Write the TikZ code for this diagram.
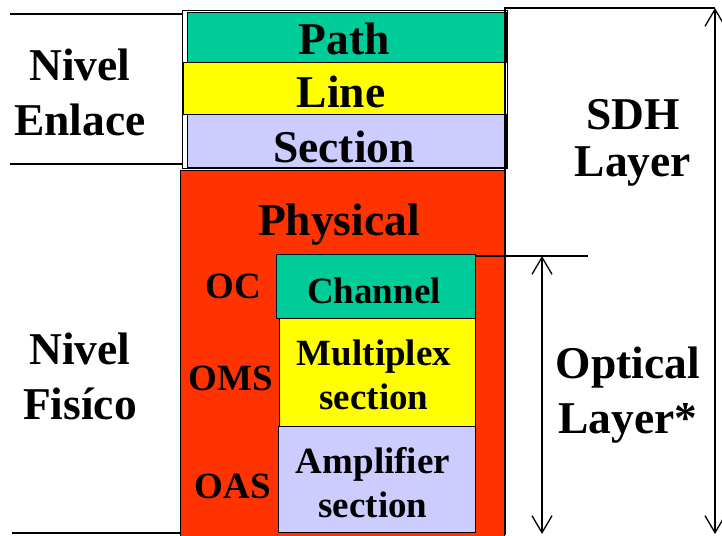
\documentclass[tikz,border=0pt]{standalone}
\usepackage{fontspec}
\setmainfont{Liberation Serif}
\usepackage{tikz}
\usetikzlibrary{arrows.meta,positioning,calc}
\definecolor{pathgreen}{RGB}{0,204,153}
\definecolor{lineyellow}{RGB}{255,255,0}
\definecolor{seclilac}{RGB}{204,204,255}
\definecolor{physred}{RGB}{255,51,0}
\tikzset{
layer/.style = {draw, rectangle, line width=1.3pt, inner sep=0pt, anchor=north west},
big/.style   = {font=\fontsize{45.5}{55}\selectfont\bfseries, align=center, inner sep=0pt},
small/.style = {font=\fontsize{37}{44}\selectfont\bfseries, align=center, inner sep=0pt},
tmp/.style   = {coordinate},
rule/.style  = {line width=1.3pt},
span/.style  = {line width=1.3pt, {Straight Barb[length=17pt,width=20pt]}-{Straight Barb[length=17pt,width=20pt]}}
}

\begin{document}
\begin{tikzpicture}[x=1pt, y=-1pt]
        \useasboundingbox (0,0) rectangle (722,535);
        % upper stack (SDH)
        \node [layer, fill=white, minimum width=325pt, minimum height=158pt] (sdh) at (182,10) {};
        \node [layer, fill=pathgreen, minimum width=319pt, minimum height=50pt] (path) at (187,12) {};
        \node [layer, fill=lineyellow, minimum width=321pt, minimum height=52pt] (line) at (183,62) {};
        \node [layer, fill=seclilac, minimum width=319pt, minimum height=53pt] (section) at (187,114) {};
        \node [big, anchor=base] (pathtxt) at (344,55) {Path};
        \node [big, anchor=base] (linetxt) at (341,107) {Line};
        \node [big, anchor=base] (sectiontxt) at (344,162) {Section};
        % physical layer
        \node [layer, fill=physred, minimum width=324pt, minimum height=366pt] (physical) at (180,170) {};
        \node [big, anchor=base] (physicaltxt) at (339,235) {Physical};
        \node [layer, fill=pathgreen, minimum width=199pt, minimum height=64pt] (channel) at (276,254) {};
        \node [layer, fill=lineyellow, minimum width=196pt, minimum height=108pt] (multiplex) at (279,318) {};
        \node [layer, fill=seclilac, minimum width=197pt, minimum height=106pt] (amplifier) at (278,426) {};
        \node [small, anchor=base] (channeltxt) at (374,303) {Channel};
        \node [small] (multiplextxt) at (374,375) {Multiplex\\section};
        \node [small] (amplifiertxt) at (373,483) {Amplifier\\section};
        \node [small, anchor=base] (oc) at (233,298) {OC};
        \node [small, anchor=base] (oms) at (231,390) {OMS};
        \node [small, anchor=base] (oas) at (233,498) {OAS};
        % left side
        \node [tmp] (l1) at (10,14) {};
        \node [tmp] (l2) at (10,164) {};
        \node [tmp] (l3) at (12,533) {};
        \draw [rule] (l1) -- (l1 -| sdh.west);
        \draw [rule] (l2) -- (l2 -| sdh.west);
        \draw [rule] (l3) -- (l3 -| physical.west);
        \node [big] (enlace) at (80,92) {Nivel\\Enlace};
        \node [big] (fisico) at (80,376) {Nivel\\Fisíco};
        % right side
        \node [tmp] (sdhbase) at (505,535) {};
        \node [tmp] (sdhcorner) at (505,8) {};
        \node [tmp] (sdhtop) at (715,8) {};
        \node [tmp] (sdhbot) at (715,534) {};
        \draw [rule] (sdhbase) -- (sdhcorner) -- (sdhtop);
        \draw [span] (sdhtop) -- (sdhbot);
        \node [tmp] (opttop) at (542,256) {};
        \node [tmp] (optend) at (588,256) {};
        \node [tmp] (optbot) at (542,534) {};
        \draw [rule] (channel.north east |- opttop) -- (optend);
        \draw [span] (opttop) -- (optbot);
        \node [big, font=\fontsize{45.5}{47}\selectfont\bfseries] (sdhtxt) at (633,143) {SDH\\Layer};
        \node [big] (optical) at (628,395) {Optical\\Layer*};
\end{tikzpicture}
\end{document}
